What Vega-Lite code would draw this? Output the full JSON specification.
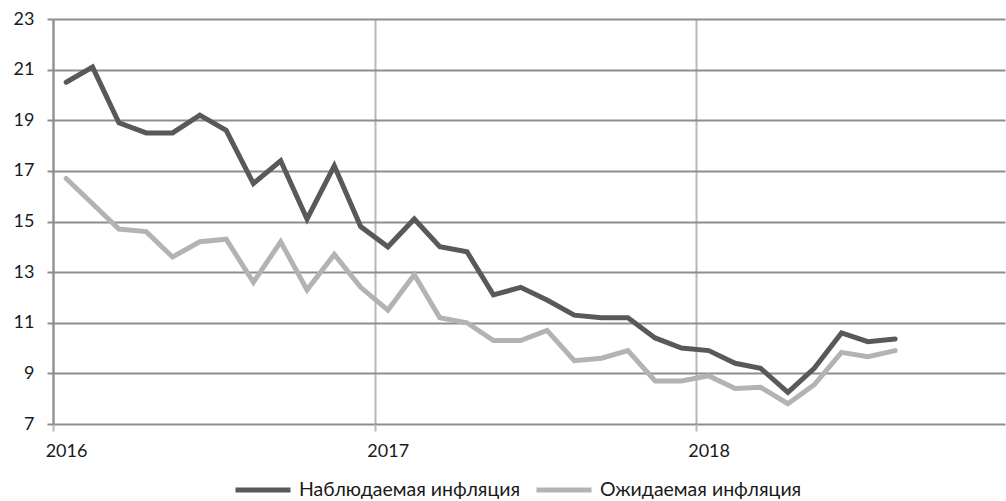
{
  "$schema": "https://vega.github.io/schema/vega-lite/v6.json",
  "width": 952,
  "height": 405,
  "autosize": {"type": "none"},
  "padding": {"left": 53, "top": 19, "right": 1, "bottom": 77},
  "background": "white",
  "config": {
    "view": {"stroke": null},
    "font": "Lato",
    "axis": {"labelFont": "Lato", "labelColor": "#1a1a1a", "labelFontSize": 18}
  },
  "data": {
    "values": [
      {"date": "2016-01-16", "series": "Наблюдаемая инфляция", "value": 20.5},
      {"date": "2016-02-15", "series": "Наблюдаемая инфляция", "value": 21.1},
      {"date": "2016-03-16", "series": "Наблюдаемая инфляция", "value": 18.9},
      {"date": "2016-04-16", "series": "Наблюдаемая инфляция", "value": 18.5},
      {"date": "2016-05-16", "series": "Наблюдаемая инфляция", "value": 18.5},
      {"date": "2016-06-16", "series": "Наблюдаемая инфляция", "value": 19.2},
      {"date": "2016-07-16", "series": "Наблюдаемая инфляция", "value": 18.6},
      {"date": "2016-08-16", "series": "Наблюдаемая инфляция", "value": 16.5},
      {"date": "2016-09-16", "series": "Наблюдаемая инфляция", "value": 17.4},
      {"date": "2016-10-16", "series": "Наблюдаемая инфляция", "value": 15.1},
      {"date": "2016-11-16", "series": "Наблюдаемая инфляция", "value": 17.2},
      {"date": "2016-12-16", "series": "Наблюдаемая инфляция", "value": 14.8},
      {"date": "2017-01-16", "series": "Наблюдаемая инфляция", "value": 14.0},
      {"date": "2017-02-15", "series": "Наблюдаемая инфляция", "value": 15.1},
      {"date": "2017-03-16", "series": "Наблюдаемая инфляция", "value": 14.0},
      {"date": "2017-04-16", "series": "Наблюдаемая инфляция", "value": 13.8},
      {"date": "2017-05-16", "series": "Наблюдаемая инфляция", "value": 12.1},
      {"date": "2017-06-16", "series": "Наблюдаемая инфляция", "value": 12.4},
      {"date": "2017-07-16", "series": "Наблюдаемая инфляция", "value": 11.9},
      {"date": "2017-08-16", "series": "Наблюдаемая инфляция", "value": 11.3},
      {"date": "2017-09-16", "series": "Наблюдаемая инфляция", "value": 11.2},
      {"date": "2017-10-16", "series": "Наблюдаемая инфляция", "value": 11.2},
      {"date": "2017-11-16", "series": "Наблюдаемая инфляция", "value": 10.4},
      {"date": "2017-12-16", "series": "Наблюдаемая инфляция", "value": 10.0},
      {"date": "2018-01-16", "series": "Наблюдаемая инфляция", "value": 9.9},
      {"date": "2018-02-15", "series": "Наблюдаемая инфляция", "value": 9.4},
      {"date": "2018-03-16", "series": "Наблюдаемая инфляция", "value": 9.2},
      {"date": "2018-04-16", "series": "Наблюдаемая инфляция", "value": 8.25},
      {"date": "2018-05-16", "series": "Наблюдаемая инфляция", "value": 9.2},
      {"date": "2018-06-16", "series": "Наблюдаемая инфляция", "value": 10.6},
      {"date": "2018-07-16", "series": "Наблюдаемая инфляция", "value": 10.25},
      {"date": "2018-08-16", "series": "Наблюдаемая инфляция", "value": 10.36},
      {"date": "2016-01-16", "series": "Ожидаемая инфляция", "value": 16.7},
      {"date": "2016-02-15", "series": "Ожидаемая инфляция", "value": 15.7},
      {"date": "2016-03-16", "series": "Ожидаемая инфляция", "value": 14.7},
      {"date": "2016-04-16", "series": "Ожидаемая инфляция", "value": 14.6},
      {"date": "2016-05-16", "series": "Ожидаемая инфляция", "value": 13.6},
      {"date": "2016-06-16", "series": "Ожидаемая инфляция", "value": 14.2},
      {"date": "2016-07-16", "series": "Ожидаемая инфляция", "value": 14.3},
      {"date": "2016-08-16", "series": "Ожидаемая инфляция", "value": 12.6},
      {"date": "2016-09-16", "series": "Ожидаемая инфляция", "value": 14.2},
      {"date": "2016-10-16", "series": "Ожидаемая инфляция", "value": 12.3},
      {"date": "2016-11-16", "series": "Ожидаемая инфляция", "value": 13.7},
      {"date": "2016-12-16", "series": "Ожидаемая инфляция", "value": 12.4},
      {"date": "2017-01-16", "series": "Ожидаемая инфляция", "value": 11.5},
      {"date": "2017-02-15", "series": "Ожидаемая инфляция", "value": 12.9},
      {"date": "2017-03-16", "series": "Ожидаемая инфляция", "value": 11.2},
      {"date": "2017-04-16", "series": "Ожидаемая инфляция", "value": 11.0},
      {"date": "2017-05-16", "series": "Ожидаемая инфляция", "value": 10.3},
      {"date": "2017-06-16", "series": "Ожидаемая инфляция", "value": 10.3},
      {"date": "2017-07-16", "series": "Ожидаемая инфляция", "value": 10.7},
      {"date": "2017-08-16", "series": "Ожидаемая инфляция", "value": 9.5},
      {"date": "2017-09-16", "series": "Ожидаемая инфляция", "value": 9.6},
      {"date": "2017-10-16", "series": "Ожидаемая инфляция", "value": 9.9},
      {"date": "2017-11-16", "series": "Ожидаемая инфляция", "value": 8.7},
      {"date": "2017-12-16", "series": "Ожидаемая инфляция", "value": 8.7},
      {"date": "2018-01-16", "series": "Ожидаемая инфляция", "value": 8.9},
      {"date": "2018-02-15", "series": "Ожидаемая инфляция", "value": 8.4},
      {"date": "2018-03-16", "series": "Ожидаемая инфляция", "value": 8.45},
      {"date": "2018-04-16", "series": "Ожидаемая инфляция", "value": 7.8},
      {"date": "2018-05-16", "series": "Ожидаемая инфляция", "value": 8.55},
      {"date": "2018-06-16", "series": "Ожидаемая инфляция", "value": 9.83},
      {"date": "2018-07-16", "series": "Ожидаемая инфляция", "value": 9.66},
      {"date": "2018-08-16", "series": "Ожидаемая инфляция", "value": 9.9}
    ]
  },
  "mark": {"type": "line", "strokeWidth": 5, "strokeCap": "round", "strokeJoin": "miter", "clip": true},
  "encoding": {
    "x": {
      "field": "date",
      "type": "temporal",
      "scale": {
        "type": "utc",
        "domain": [
          {"year": 2016, "month": 1, "date": 1, "utc": true},
          {"year": 2018, "month": 12, "date": 19, "utc": true}
        ]
      },
      "axis": {
        "title": null,
        "values": [
          {"year": 2016, "month": 1, "date": 1, "utc": true},
          {"year": 2017, "month": 1, "date": 1, "utc": true},
          {"year": 2018, "month": 1, "date": 1, "utc": true}
        ],
        "labelExpr": "utcFormat(datum.value, '%Y')",
        "labelOffset": 13,
        "labelPadding": 11,
        "labelAlign": "center",
        "labelFlush": false,
        "domain": false,
        "grid": true,
        "gridColor": "#b8b8b8",
        "gridWidth": 2,
        "ticks": true,
        "tickColor": "#b8b8b8",
        "tickWidth": 2,
        "tickSize": 7
      }
    },
    "y": {
      "field": "value",
      "type": "quantitative",
      "scale": {"domain": [7, 23], "nice": false, "zero": false},
      "axis": {
        "title": null,
        "values": [7, 9, 11, 13, 15, 17, 19, 21, 23],
        "grid": true,
        "gridColor": "#8e8e8e",
        "gridWidth": 2,
        "domain": true,
        "domainColor": "#8e8e8e",
        "domainWidth": 2,
        "ticks": true,
        "tickColor": "#8e8e8e",
        "tickWidth": 2,
        "tickSize": 6,
        "labelPadding": 13
      }
    },
    "color": {
      "field": "series",
      "type": "nominal",
      "scale": {
        "domain": ["Наблюдаемая инфляция", "Ожидаемая инфляция"],
        "range": ["#595959", "#b3b3b3"]
      },
      "legend": {
        "title": null,
        "orient": "none",
        "direction": "horizontal",
        "legendX": 180,
        "legendY": 441,
        "padding": 0,
        "symbolType": "stroke",
        "symbolSize": 3025,
        "symbolStrokeWidth": 5,
        "labelFont": "Lato",
        "labelFontSize": 19.5,
        "labelLimit": 500,
        "labelColor": "#1a1a1a",
        "labelOffset": 6,
        "columnPadding": 5
      }
    }
  }
}
